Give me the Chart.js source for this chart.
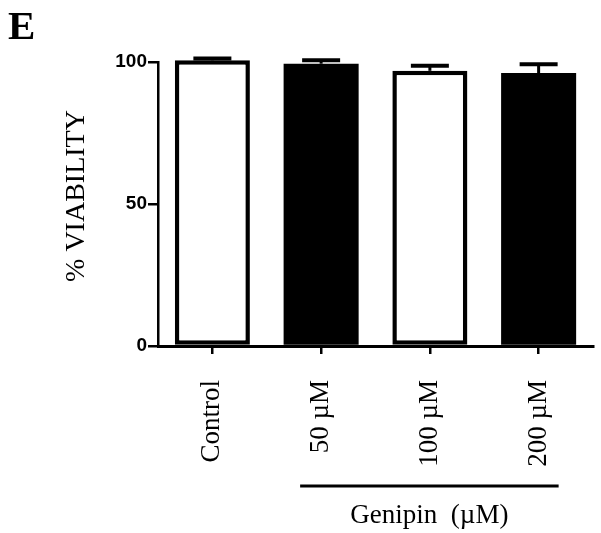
<!DOCTYPE html>
<html>
<head>
<meta charset="utf-8">
<script src="https://cdn.jsdelivr.net/npm/chart.js@4"></script>
<style>
  body { margin: 0; background: #fff; }
  #wrap { position: relative; width: 601px; height: 533px; }
  #panel { position: absolute; left: 8px; top: 1px; font: bold 41px "Liberation Serif", serif; color: #000; }
</style>
</head>
<body>
<div id="wrap">
  <canvas id="c" width="601" height="533"></canvas>
  <div id="panel">E</div>
</div>
<script>
// ---------- DATA ----------
const categories = ["Control", "50 µM", "100 µM", "200 µM"];
const viability = [100.6, 99.4, 96.9, 96.1];
const sem = [0.6, 1.2, 1.8, 3.1];
const fills = ["#ffffff", "#000000", "#ffffff", "#000000"];
const yTicks = [0, 50, 100];
const yTitle = "% VIABILITY";
const groupLabel = "Genipin  (µM)";

// ---------- PLUGIN: error bars + y title + Genipin bracket ----------
const extras = {
  id: "extras",
  afterDatasetsDraw(chart) {
    const { ctx, scales: { y } } = chart;
    const meta = chart.getDatasetMeta(0);
    ctx.save();
    ctx.strokeStyle = "#000";
    meta.data.forEach((bar, i) => {
      const top = y.getPixelForValue(viability[i] + sem[i]);
      ctx.lineWidth = 3;
      ctx.beginPath();
      ctx.moveTo(bar.x, bar.y);
      ctx.lineTo(bar.x, top);
      ctx.stroke();
      ctx.lineWidth = 4;
      ctx.beginPath();
      ctx.moveTo(bar.x - 19, top);
      ctx.lineTo(bar.x + 19, top);
      ctx.stroke();
    });
    ctx.restore();
  },
  afterDraw(chart) {
    const { ctx, scales: { x } } = chart;
    ctx.save();
    ctx.fillStyle = "#000";
    ctx.strokeStyle = "#000";

    // y axis title, rotated
    ctx.translate(77, 196);
    ctx.rotate(-Math.PI / 2);
    ctx.font = "28px 'Liberation Serif', serif";
    ctx.textAlign = "center";
    ctx.textBaseline = "middle";
    ctx.fillText(yTitle, 0, 0);
    ctx.setTransform(1, 0, 0, 1, 0, 0);

    // bracket under the treated groups
    const x1 = x.getPixelForValue(1) - 21;
    const x2 = x.getPixelForValue(3) + 20;
    ctx.lineWidth = 3;
    ctx.beginPath();
    ctx.moveTo(x1, 486);
    ctx.lineTo(x2, 486);
    ctx.stroke();
    ctx.font = "27px 'Liberation Serif', serif";
    ctx.textAlign = "center";
    ctx.textBaseline = "alphabetic";
    ctx.fillText(groupLabel, (x1 + x2) / 2, 523);
    ctx.restore();
  }
};

new Chart(document.getElementById("c"), {
  type: "bar",
  data: {
    labels: categories,
    datasets: [{
      data: viability,
      backgroundColor: fills,
      borderColor: "#000",
      borderWidth: [4.5, 0, 4.5, 0],
      borderSkipped: false,
      categoryPercentage: 1,
      barPercentage: 0.69,
      clip: false
    }]
  },
  options: {
    responsive: false,
    animation: false,
    layout: { padding: { left: 60, top: 62, right: 8, bottom: 0 } },
    plugins: { legend: { display: false }, tooltip: { enabled: false } },
    scales: {
      x: {
        afterFit(s) { s.height = 187; },
        grid: { offset: false, drawOnChartArea: false, color: "#000", lineWidth: 2.5, tickLength: 8 },
        border: { color: "#000", width: 3 },
        ticks: {
          color: "#000",
          minRotation: 90, maxRotation: 90,
          padding: 26,
          font: { family: "'Liberation Serif', serif", size: 27 }
        }
      },
      y: {
        min: 0, max: 100,
        afterFit(s) { s.width = 98; },
        afterBuildTicks(s) { s.ticks = yTicks.map(v => ({ value: v })); },
        grid: { drawOnChartArea: false, color: "#000", lineWidth: 2.5, tickLength: 10 },
        border: { color: "#000", width: 2.5 },
        ticks: {
          color: "#000",
          padding: 1,
          font: { family: "'Liberation Sans', Arial, sans-serif", size: 19, weight: "bold" }
        }
      }
    }
  },
  plugins: [extras]
});
</script>
</body>
</html>
